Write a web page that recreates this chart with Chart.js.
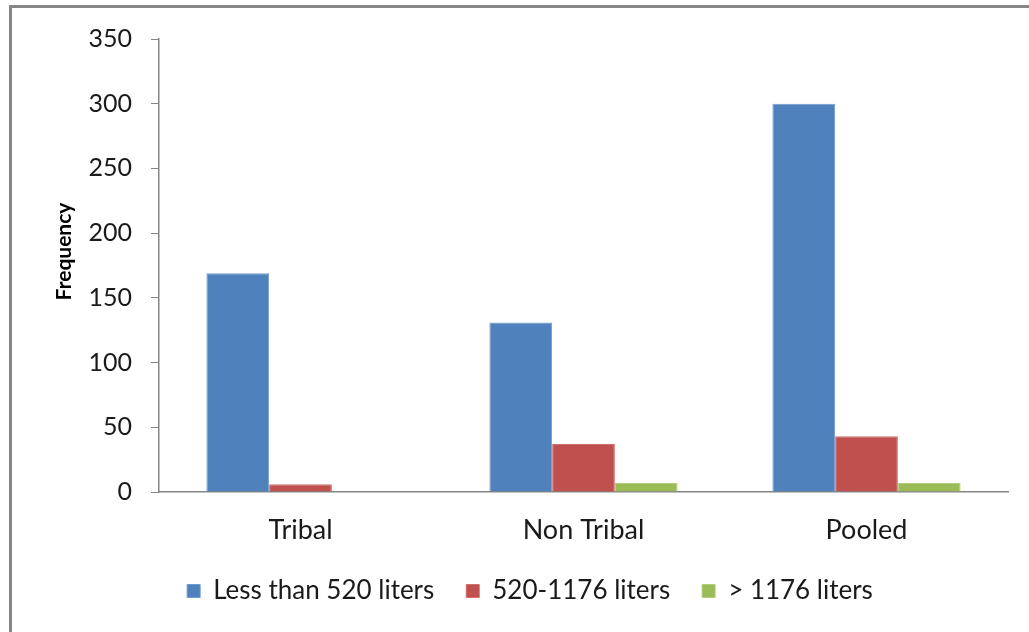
<!DOCTYPE html>
<html>
<head>
<meta charset="utf-8">
<script src="https://cdn.jsdelivr.net/npm/chart.js@4/dist/chart.umd.min.js"></script>
<style>
  html, body { margin: 0; padding: 0; background: #ffffff; }
  #wrap { position: relative; width: 1029px; height: 632px; }
  canvas { display: block; }
</style>
</head>
<body>
<div id="wrap"><canvas id="chart" width="1029" height="632"></canvas></div>
<script>
// Household water-use classes by group
const categories = ['Tribal', 'Non Tribal', 'Pooled'];
const seriesNames = ['Less than 520 liters', '520-1176 liters', '> 1176 liters'];
const lessThan520 = [169, 131, 300];
const from520to1176 = [6, 37, 43];
const above1176 = [0, 7, 7];
const yTicks = [0, 50, 100, 150, 200, 250, 300, 350];
const yAxisTitle = 'Frequency';

const FONT = 'Lato, "Open Sans", sans-serif';
const AXIS_GREY = '#868686';

// Grey frame along the top and left edges of the figure
const framePlugin = {
  id: 'frame',
  afterDraw(chart) {
    const ctx = chart.ctx;
    ctx.save();
    ctx.fillStyle = '#878787';
    ctx.fillRect(9, 5, chart.width - 9, 3);
    ctx.fillRect(9, 5, 3, chart.height - 5);
    ctx.restore();
  }
};

// Vertical y-axis title, sitting a little above the middle of the plot
const yTitlePlugin = {
  id: 'yTitle',
  afterDraw(chart) {
    const ctx = chart.ctx;
    const area = chart.chartArea;
    const x = chart.scales.y.left + 12.5;
    const y = (area.top + area.bottom) / 2 - 14;
    ctx.save();
    ctx.translate(x, y);
    ctx.rotate(-Math.PI / 2);
    ctx.font = 'bold 21px ' + FONT;
    ctx.fillStyle = '#000000';
    ctx.textAlign = 'center';
    ctx.textBaseline = 'middle';
    ctx.fillText(yAxisTitle, 0, 0);
    ctx.restore();
  }
};

new Chart(document.getElementById('chart'), {
  type: 'bar',
  data: {
    labels: categories,
    datasets: [
      { label: seriesNames[0], data: lessThan520, backgroundColor: '#4F81BD', borderColor: '#6F9AD0', borderWidth: 1 },
      { label: seriesNames[1], data: from520to1176, backgroundColor: '#C0504D', borderColor: '#D26F6C', borderWidth: 1 },
      { label: seriesNames[2], data: above1176, backgroundColor: '#9BBB59', borderColor: '#B2CF78', borderWidth: 1 }
    ]
  },
  options: {
    responsive: false,
    animation: false,
    devicePixelRatio: 1,
    layout: { padding: { left: 52, right: 21, top: 39, bottom: 18 } },
    datasets: { bar: { barPercentage: 1.0, categoryPercentage: 0.665 } },
    plugins: {
      tooltip: { enabled: false },
      legend: {
        position: 'bottom',
        labels: {
          font: { family: FONT, size: 26 },
          color: '#1a1a1a',
          boxWidth: 13,
          boxHeight: 13,
          padding: 32
        }
      }
    },
    scales: {
      x: {
        grid: { display: false, drawTicks: false },
        border: { display: true, color: AXIS_GREY, width: 1.5 },
        ticks: { font: { family: FONT, size: 27 }, color: '#1a1a1a', padding: 22 },
        afterFit(scale) { scale.height = 54; }
      },
      y: {
        min: 0,
        max: 350,
        afterBuildTicks(scale) { scale.ticks = yTicks.map(v => ({ value: v })); },
        grid: { display: true, drawOnChartArea: false, drawTicks: true, tickLength: 8, color: AXIS_GREY },
        border: { display: true, color: AXIS_GREY, width: 1.5 },
        ticks: { font: { family: FONT, size: 25 }, color: '#1a1a1a', padding: 19 },
        title: { display: false, text: yAxisTitle },
        afterFit(scale) { scale.width = 107; }
      }
    }
  },
  plugins: [framePlugin, yTitlePlugin]
});
</script>
</body>
</html>
